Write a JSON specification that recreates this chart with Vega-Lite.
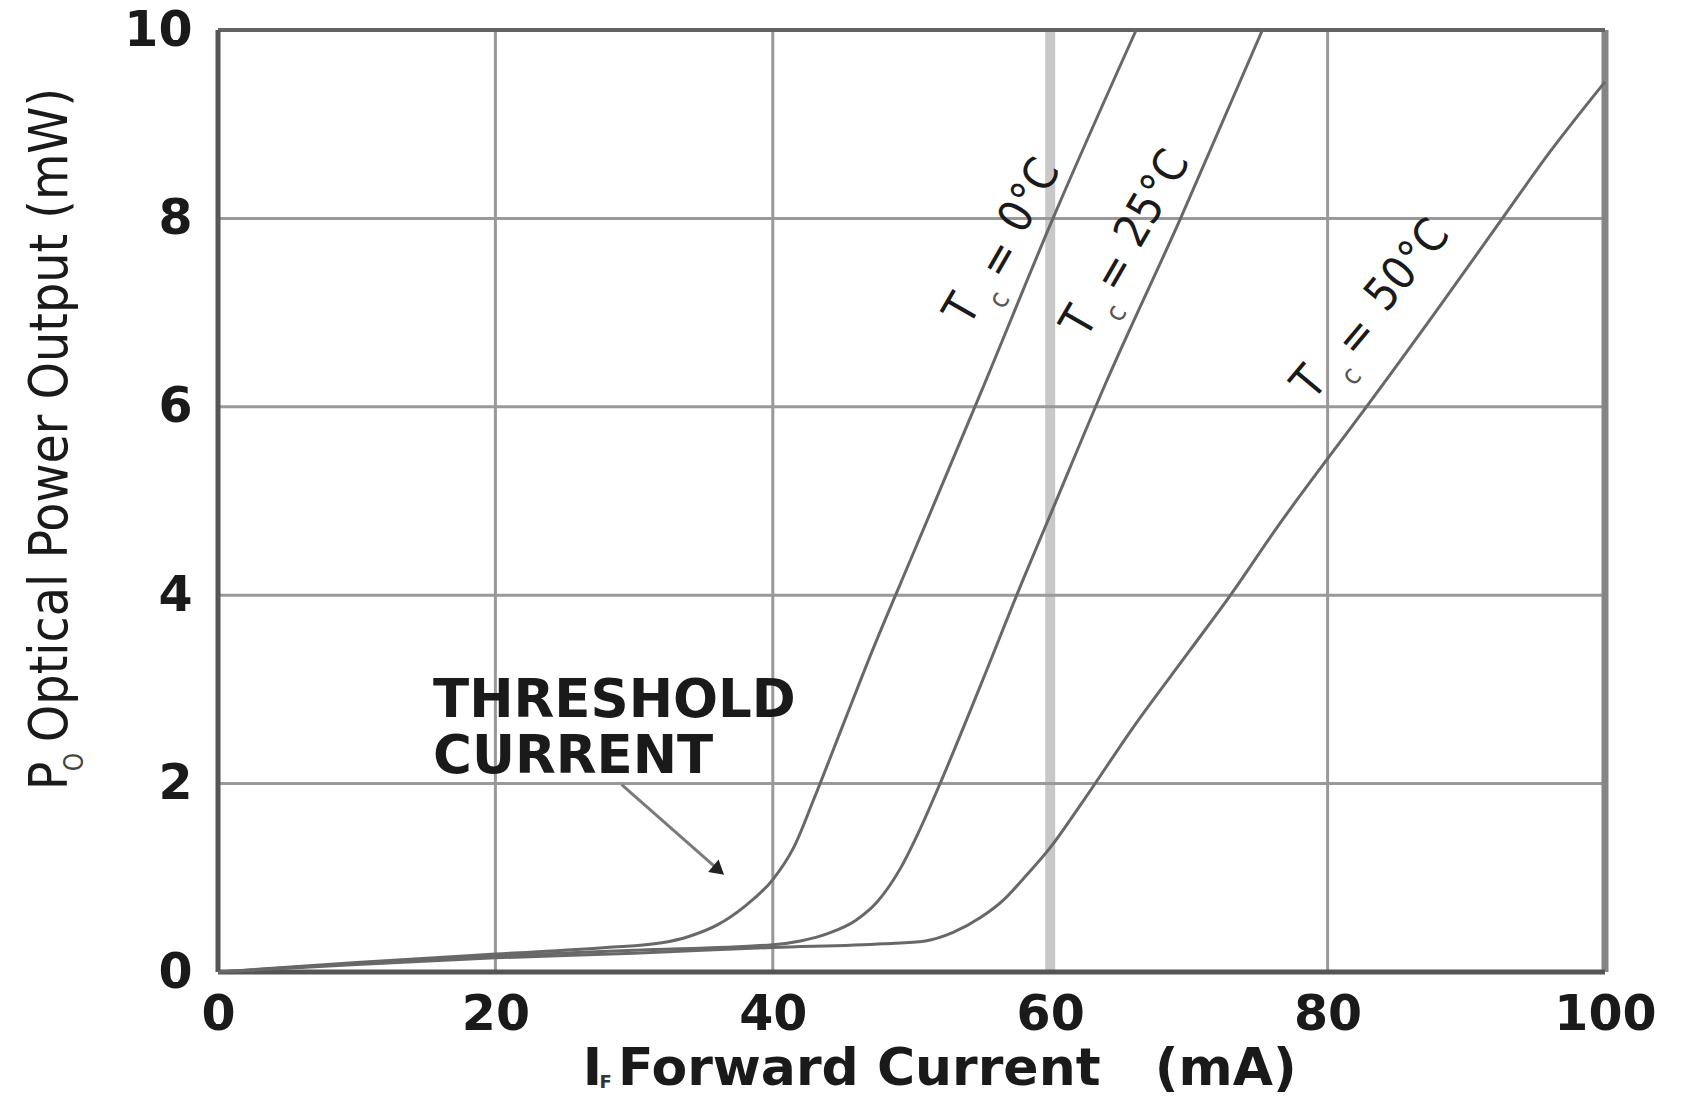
{
  "$schema": "https://vega.github.io/schema/vega-lite/v6.json",
  "width": 1387,
  "height": 942,
  "autosize": {"type": "none"},
  "padding": {"left": 218, "top": 30, "right": 80, "bottom": 124},
  "background": "white",
  "config": {"view": {"stroke": null}},
  "datasets": {
    "curves": [
      {"series": "0°C", "I": 0, "P": 0}, {"series": "0°C", "I": 10, "P": 0.1}, {"series": "0°C", "I": 20, "P": 0.19}, {"series": "0°C", "I": 28, "P": 0.26}, {"series": "0°C", "I": 32, "P": 0.31}, {"series": "0°C", "I": 34, "P": 0.38}, {"series": "0°C", "I": 36, "P": 0.5}, {"series": "0°C", "I": 38, "P": 0.7}, {"series": "0°C", "I": 40, "P": 0.98}, {"series": "0°C", "I": 41.5, "P": 1.32}, {"series": "0°C", "I": 43, "P": 1.85}, {"series": "0°C", "I": 45, "P": 2.6}, {"series": "0°C", "I": 47.2, "P": 3.42}, {"series": "0°C", "I": 50, "P": 4.4}, {"series": "0°C", "I": 55, "P": 6.15}, {"series": "0°C", "I": 60.2, "P": 8.0}, {"series": "0°C", "I": 66.2, "P": 10.0},
      {"series": "25°C", "I": 0, "P": 0}, {"series": "25°C", "I": 10, "P": 0.09}, {"series": "25°C", "I": 20, "P": 0.17}, {"series": "25°C", "I": 30, "P": 0.23}, {"series": "25°C", "I": 40, "P": 0.29}, {"series": "25°C", "I": 42, "P": 0.33}, {"series": "25°C", "I": 44, "P": 0.41}, {"series": "25°C", "I": 46, "P": 0.55}, {"series": "25°C", "I": 47.5, "P": 0.74}, {"series": "25°C", "I": 49.2, "P": 1.1}, {"series": "25°C", "I": 50.5, "P": 1.48}, {"series": "25°C", "I": 52, "P": 1.98}, {"series": "25°C", "I": 55, "P": 3.05}, {"series": "25°C", "I": 58, "P": 4.15}, {"series": "25°C", "I": 60, "P": 4.85}, {"series": "25°C", "I": 64, "P": 6.25}, {"series": "25°C", "I": 69.4, "P": 8.0}, {"series": "25°C", "I": 75.3, "P": 10.0},
      {"series": "50°C", "I": 0, "P": 0}, {"series": "50°C", "I": 10, "P": 0.08}, {"series": "50°C", "I": 20, "P": 0.15}, {"series": "50°C", "I": 30, "P": 0.2}, {"series": "50°C", "I": 40, "P": 0.26}, {"series": "50°C", "I": 48, "P": 0.3}, {"series": "50°C", "I": 51, "P": 0.33}, {"series": "50°C", "I": 53, "P": 0.42}, {"series": "50°C", "I": 55, "P": 0.58}, {"series": "50°C", "I": 56.6, "P": 0.76}, {"series": "50°C", "I": 58, "P": 0.98}, {"series": "50°C", "I": 60, "P": 1.32}, {"series": "50°C", "I": 62.4, "P": 1.82}, {"series": "50°C", "I": 66, "P": 2.6}, {"series": "50°C", "I": 70, "P": 3.4}, {"series": "50°C", "I": 73, "P": 4.0}, {"series": "50°C", "I": 76.5, "P": 4.75}, {"series": "50°C", "I": 80, "P": 5.45}, {"series": "50°C", "I": 82.8, "P": 6.0}, {"series": "50°C", "I": 88, "P": 7.05}, {"series": "50°C", "I": 92.6, "P": 8.0}, {"series": "50°C", "I": 96, "P": 8.7}, {"series": "50°C", "I": 100, "P": 9.45}
    ]
  },
  "layer": [
    {
      "data": {"values": [{"I": 60}]},
      "mark": {"type": "rule", "color": "#c8c8c8", "strokeWidth": 10},
      "encoding": {
        "x": {"field": "I", "type": "quantitative", "title": null, "scale": {"domain": [0, 100], "nice": false, "zero": false},
          "axis": {"values": [0, 20, 40, 60, 80, 100], "format": "d", "grid": false, "domain": false, "ticks": false, "labelPadding": 18, "labelFont": "DejaVu Sans", "labelFontWeight": "bold", "labelFontSize": 49, "labelColor": "#1a1a1a", "labelFlush": false, "labelOverlap": false}}
      }
    },
    {
      "data": {"values": [{"I": 20}, {"I": 40}, {"I": 80}]},
      "mark": {"type": "rule", "color": "#999999", "strokeWidth": 3},
      "encoding": {"x": {"field": "I", "type": "quantitative", "title": null}}
    },
    {
      "data": {"values": [{"P": 2}, {"P": 4}, {"P": 6}, {"P": 8}]},
      "mark": {"type": "rule", "color": "#999999", "strokeWidth": 3},
      "encoding": {
        "y": {"field": "P", "type": "quantitative", "title": null, "scale": {"domain": [0, 10], "nice": false, "zero": false},
          "axis": {"values": [0, 2, 4, 6, 8, 10], "format": "d", "grid": false, "domain": false, "ticks": false, "labelPadding": 26, "labelFont": "DejaVu Sans", "labelFontWeight": "bold", "labelFontSize": 49, "labelColor": "#1a1a1a", "labelFlush": false, "labelOverlap": false}}
      }
    },
    {
      "data": {"values": [{"I": 100}]},
      "mark": {"type": "rule", "color": "#858585", "strokeWidth": 7},
      "encoding": {"x": {"field": "I", "type": "quantitative", "title": null}}
    },
    {
      "data": {"values": [{"P": 10}]},
      "mark": {"type": "rule", "color": "#636363", "strokeWidth": 4},
      "encoding": {"y": {"field": "P", "type": "quantitative", "title": null}}
    },
    {
      "data": {"values": [{"I": 0}]},
      "mark": {"type": "rule", "color": "#555555", "strokeWidth": 5},
      "encoding": {"x": {"field": "I", "type": "quantitative", "title": null}}
    },
    {
      "data": {"values": [{"P": 0}]},
      "mark": {"type": "rule", "color": "#555555", "strokeWidth": 5},
      "encoding": {"y": {"field": "P", "type": "quantitative", "title": null}}
    },
    {
      "data": {"name": "curves"},
      "mark": {"type": "line", "color": "#686868", "strokeWidth": 3, "interpolate": "monotone"},
      "encoding": {
        "x": {"field": "I", "type": "quantitative", "title": null},
        "y": {"field": "P", "type": "quantitative", "title": null},
        "detail": {"field": "series"}
      }
    },
    {
      "data": {"values": [{"I": 29.1, "P": 1.99, "I2": 35.8, "P2": 1.12}]},
      "mark": {"type": "rule", "color": "#7a7a7a", "strokeWidth": 3},
      "encoding": {
        "x": {"field": "I", "type": "quantitative", "title": null},
        "y": {"field": "P", "type": "quantitative", "title": null},
        "x2": {"field": "I2"},
        "y2": {"field": "P2"}
      }
    },
    {
      "data": {"values": [{"I": 36.1, "P": 1.08}]},
      "mark": {"type": "point", "shape": "triangle-up", "filled": true, "size": 260, "angle": 130, "color": "#222222", "opacity": 1},
      "encoding": {
        "x": {"field": "I", "type": "quantitative", "title": null},
        "y": {"field": "P", "type": "quantitative", "title": null}
      }
    },
    {
      "data": {"values": [{"I": 15.5, "P": 2.71, "label": "THRESHOLD"}, {"I": 15.5, "P": 2.11, "label": "CURRENT"}]},
      "mark": {"type": "text", "align": "left", "baseline": "alphabetic", "font": "DejaVu Sans", "fontWeight": "bold", "fontSize": 53, "color": "#1a1a1a"},
      "encoding": {
        "x": {"field": "I", "type": "quantitative", "title": null},
        "y": {"field": "P", "type": "quantitative", "title": null},
        "text": {"field": "label"}
      }
    },
    {
      "data": {"values": [
        {"I": 53.71, "P": 7.03, "label": "T"}, {"I": 56.38, "P": 7.56, "label": "="}, {"I": 58.53, "P": 8.24, "label": "0°C"},
        {"I": 62.15, "P": 6.9, "label": "T"}, {"I": 64.67, "P": 7.42, "label": "="}, {"I": 67.4, "P": 8.21, "label": "25°C"}
      ]},
      "mark": {"type": "text", "align": "center", "baseline": "middle", "angle": -60, "font": "DejaVu Sans Condensed, Liberation Sans", "fontSize": 46, "color": "#1a1a1a"},
      "encoding": {
        "x": {"field": "I", "type": "quantitative", "title": null},
        "y": {"field": "P", "type": "quantitative", "title": null},
        "text": {"field": "label"}
      }
    },
    {
      "data": {"values": [{"I": 56.38, "P": 7.13, "label": "c"}, {"I": 64.82, "P": 6.99, "label": "c"}]},
      "mark": {"type": "text", "align": "center", "baseline": "middle", "angle": -60, "font": "DejaVu Sans Condensed, Liberation Sans", "fontSize": 28, "color": "#555555"},
      "encoding": {
        "x": {"field": "I", "type": "quantitative", "title": null},
        "y": {"field": "P", "type": "quantitative", "title": null},
        "text": {"field": "label"}
      }
    },
    {
      "data": {"values": [{"I": 78.73, "P": 6.25, "label": "T"}, {"I": 82.12, "P": 6.74, "label": "="}, {"I": 85.78, "P": 7.5, "label": "50°C"}]},
      "mark": {"type": "text", "align": "center", "baseline": "middle", "angle": -50, "font": "DejaVu Sans Condensed, Liberation Sans", "fontSize": 46, "color": "#1a1a1a"},
      "encoding": {
        "x": {"field": "I", "type": "quantitative", "title": null},
        "y": {"field": "P", "type": "quantitative", "title": null},
        "text": {"field": "label"}
      }
    },
    {
      "data": {"values": [{"I": 81.76, "P": 6.32, "label": "c"}]},
      "mark": {"type": "text", "align": "center", "baseline": "middle", "angle": -50, "font": "DejaVu Sans Condensed, Liberation Sans", "fontSize": 28, "color": "#555555"},
      "encoding": {
        "x": {"field": "I", "type": "quantitative", "title": null},
        "y": {"field": "P", "type": "quantitative", "title": null},
        "text": {"field": "label"}
      }
    },
    {
      "data": {"values": [{"I": 26.3, "P": -1.2, "label": "I"}, {"I": 28.84, "P": -1.2, "label": "Forward Current\u00a0\u00a0 (mA)"}]},
      "mark": {"type": "text", "align": "left", "baseline": "alphabetic", "font": "DejaVu Sans", "fontWeight": "bold", "fontSize": 52, "color": "#1a1a1a"},
      "encoding": {
        "x": {"field": "I", "type": "quantitative", "title": null},
        "y": {"field": "P", "type": "quantitative", "title": null},
        "text": {"field": "label"}
      }
    },
    {
      "data": {"values": [{"I": 27.5, "P": -1.23, "label": "F"}]},
      "mark": {"type": "text", "align": "left", "baseline": "alphabetic", "font": "DejaVu Sans", "fontWeight": "bold", "fontSize": 18, "color": "#333333"},
      "encoding": {
        "x": {"field": "I", "type": "quantitative", "title": null},
        "y": {"field": "P", "type": "quantitative", "title": null},
        "text": {"field": "label"}
      }
    },
    {
      "data": {"values": [{"I": -10.9, "P": 1.93, "label": "P"}, {"I": -10.9, "P": 2.44, "label": "Optical Power Output (mW)"}]},
      "mark": {"type": "text", "align": "left", "baseline": "alphabetic", "angle": -90, "font": "DejaVu Sans Condensed, Liberation Sans", "fontSize": 53, "color": "#1a1a1a"},
      "encoding": {
        "x": {"field": "I", "type": "quantitative", "title": null},
        "y": {"field": "P", "type": "quantitative", "title": null},
        "text": {"field": "label"}
      }
    },
    {
      "data": {"values": [{"I": -9.7, "P": 2.13, "label": "O"}]},
      "mark": {"type": "text", "align": "left", "baseline": "alphabetic", "angle": -90, "font": "DejaVu Sans Condensed, Liberation Sans", "fontSize": 26, "color": "#444444"},
      "encoding": {
        "x": {"field": "I", "type": "quantitative", "title": null},
        "y": {"field": "P", "type": "quantitative", "title": null},
        "text": {"field": "label"}
      }
    }
  ]
}
